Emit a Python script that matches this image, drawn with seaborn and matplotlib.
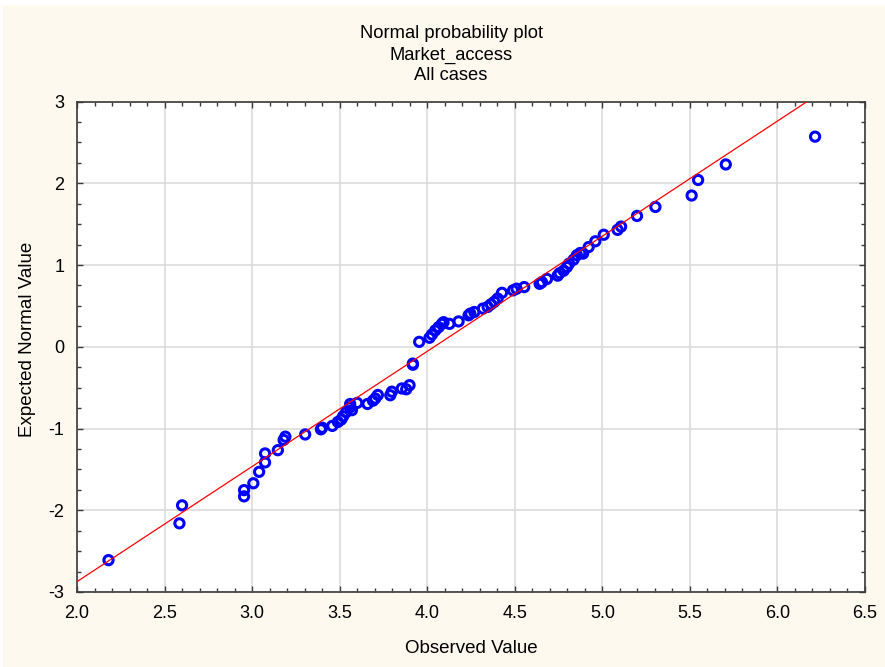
import matplotlib
matplotlib.use("Agg")
import matplotlib.pyplot as plt
from matplotlib.patches import Rectangle
from matplotlib.ticker import MultipleLocator
import numpy as np
import pandas as pd
import seaborn as sns

# Observed values of Market_access and their expected normal scores
observed = [
    2.18, 2.585, 2.60, 2.954, 2.954, 3.007, 3.04, 3.074, 3.074, 3.147,
    3.18, 3.19, 3.303, 3.393, 3.40, 3.458, 3.49, 3.509, 3.52, 3.537,
    3.57, 3.56, 3.56, 3.60, 3.659, 3.69, 3.703, 3.718, 3.789, 3.798,
    3.855, 3.88, 3.899, 3.918, 3.918, 3.954, 4.013, 4.027, 4.046, 4.065,
    4.084, 4.093, 4.127, 4.179, 4.236, 4.246, 4.269, 4.318, 4.345, 4.364,
    4.383, 4.402, 4.427, 4.49, 4.51, 4.554, 4.642, 4.655, 4.684, 4.745,
    4.756, 4.779, 4.798, 4.81, 4.836, 4.855, 4.874, 4.89, 4.922, 4.96,
    5.008, 5.087, 5.107, 5.198, 5.303, 5.51, 5.547, 5.705, 6.215,
]
expected = [
    -2.61, -2.16, -1.94, -1.83, -1.754, -1.67, -1.53, -1.415, -1.305, -1.265,
    -1.14, -1.10, -1.073, -1.01, -0.99, -0.968, -0.92, -0.89, -0.85, -0.80,
    -0.776, -0.74, -0.70, -0.687, -0.70, -0.66, -0.633, -0.59, -0.593, -0.55,
    -0.51, -0.52, -0.47, -0.206, -0.22, 0.06, 0.11, 0.15, 0.20, 0.24,
    0.28, 0.30, 0.28, 0.31, 0.385, 0.405, 0.425, 0.467, 0.487, 0.52,
    0.55, 0.59, 0.66, 0.69, 0.71, 0.73, 0.77, 0.79, 0.83, 0.87,
    0.90, 0.93, 0.976, 1.017, 1.066, 1.12, 1.147, 1.14, 1.22, 1.29,
    1.37, 1.43, 1.47, 1.60, 1.71, 1.85, 2.04, 2.23, 2.57,
]

# Reference normal line: mean and standard deviation of the sample
line_mean = 4.04
line_sd = 0.71

x_ticks = [2.0, 2.5, 3.0, 3.5, 4.0, 4.5, 5.0, 5.5, 6.0, 6.5]
y_ticks = [-3, -2, -1, 0, 1, 2, 3]
title_lines = ["Normal probability plot", "Market_access", "All cases"]

sns.set_theme(style="white")
plt.rcParams["font.family"] = ["Liberation Sans", "DejaVu Sans"]
plt.rcParams["axes.unicode_minus"] = False

W, H = 885, 667
fig = plt.figure(figsize=(W / 100, H / 100), dpi=100)
fig.patch.set_facecolor("white")
fig.patches.append(Rectangle((3 / W, 0), 1 - 3 / W, 1 - 5 / H,
                             transform=fig.transFigure, facecolor="#fdf9ef",
                             edgecolor="none", zorder=-10))

ax = fig.add_axes([77 / W, (H - 592) / H, (865 - 77) / W, (592 - 101.5) / H])
ax.set_facecolor("white")

points = pd.DataFrame({"Observed Value": observed, "Expected Normal Value": expected})
sns.scatterplot(data=points, x="Observed Value", y="Expected Normal Value", ax=ax,
                marker="o", s=44, facecolor="none", edgecolor="#0000ff",
                linewidth=2.2, zorder=3)

line_x = np.array([x_ticks[0], x_ticks[-1]])
line = pd.DataFrame({"x": line_x, "y": (line_x - line_mean) / line_sd})
sns.lineplot(data=line, x="x", y="y", ax=ax, color="#ff0000", linewidth=0.9, zorder=4)

ax.set_xlim(x_ticks[0], x_ticks[-1])
ax.set_ylim(y_ticks[0], y_ticks[-1])
ax.set_xticks(x_ticks)
ax.set_xticklabels([f"{v:.1f}" for v in x_ticks])
ax.set_yticks(y_ticks)
ax.set_yticklabels([str(v) for v in y_ticks])
ax.xaxis.set_minor_locator(MultipleLocator(0.1))
ax.yaxis.set_minor_locator(MultipleLocator(0.25))

ax.grid(True, which="major", color="#d9d9d9", linewidth=1.1)
ax.set_axisbelow(True)
for side in ["left", "right", "top", "bottom"]:
    ax.spines[side].set_visible(True)
    ax.spines[side].set_color("#3a3a3a")
    ax.spines[side].set_linewidth(1.2)

ax.tick_params(which="both", direction="in", top=True, right=True,
               bottom=True, left=True, color="#3a3a3a", width=1)
ax.tick_params(which="major", length=4, labelsize=13, pad=9, labelcolor="black")
ax.tick_params(which="minor", length=3)

ax.set_xlabel("Observed Value", fontsize=13.5, color="black")
ax.set_ylabel("Expected Normal Value", fontsize=13.5, color="black")
ax.xaxis.set_label_coords(0.5, (592 - 648) / 490)
ax.xaxis.label.set_va("center")
ax.yaxis.set_label_coords((28 - 77) / 788, (592 - 340) / 490)
ax.yaxis.label.set_va("center")

for text, ypix in zip(title_lines, [33, 55, 76]):
    fig.text(451 / W, 1 - ypix / H, text, ha="center", va="center",
             fontsize=13.2, color="black")

fig.savefig("out.png", dpi=100, facecolor=fig.get_facecolor())
